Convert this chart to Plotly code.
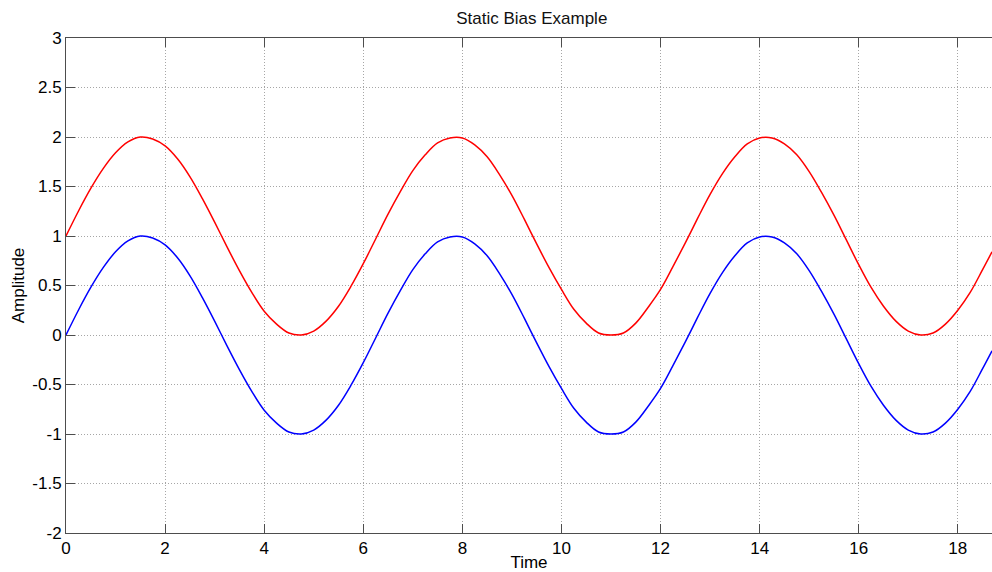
import plotly.graph_objects as go

# Sample times (every 0.25) and amplitudes of the two signals
time = [0.00, 0.25, 0.50, 0.75, 1.00, 1.25, 1.50, 1.75, 2.00, 2.25, 2.50, 2.75,
        3.00, 3.25, 3.50, 3.75, 4.00, 4.25, 4.50, 4.75, 5.00, 5.25, 5.50, 5.75,
        6.00, 6.25, 6.50, 6.75, 7.00, 7.25, 7.50, 7.75, 8.00, 8.25, 8.50, 8.75,
        9.00, 9.25, 9.50, 9.75, 10.00, 10.25, 10.50, 10.75, 11.00, 11.25, 11.50,
        11.75, 12.00, 12.25, 12.50, 12.75, 13.00, 13.25, 13.50, 13.75, 14.00,
        14.25, 14.50, 14.75, 15.00, 15.25, 15.50, 15.75, 16.00, 16.25, 16.50,
        16.75, 17.00, 17.25, 17.50, 17.75, 18.00, 18.25, 18.50, 18.69]

signal = [0.00, 0.25, 0.48, 0.68, 0.84, 0.95, 1.00, 0.98, 0.91, 0.78, 0.60, 0.38,
          0.14, -0.11, -0.35, -0.57, -0.76, -0.89, -0.98, -1.00, -0.96, -0.86, -0.71, -0.51,
          -0.28, -0.03, 0.22, 0.45, 0.66, 0.82, 0.94, 0.99, 0.99, 0.92, 0.80, 0.62,
          0.41, 0.17, -0.08, -0.32, -0.54, -0.74, -0.88, -0.98, -1.00, -0.98, -0.88,
          -0.72, -0.54, -0.31, -0.07, 0.18, 0.42, 0.63, 0.80, 0.93, 0.99,
          0.99, 0.93, 0.82, 0.65, 0.44, 0.21, -0.04, -0.29, -0.52, -0.71,
          -0.86, -0.96, -1.00, -0.98, -0.89, -0.75, -0.57, -0.34, -0.16]

biased = [1.00, 1.25, 1.48, 1.68, 1.84, 1.95, 2.00, 1.98, 1.91, 1.78, 1.60, 1.38,
          1.14, 0.89, 0.65, 0.43, 0.24, 0.11, 0.02, 0.00, 0.04, 0.14, 0.29, 0.49,
          0.72, 0.97, 1.22, 1.45, 1.66, 1.82, 1.94, 1.99, 1.99, 1.92, 1.80, 1.62,
          1.41, 1.17, 0.92, 0.68, 0.46, 0.26, 0.12, 0.02, 0.00, 0.02, 0.12,
          0.28, 0.46, 0.69, 0.93, 1.18, 1.42, 1.63, 1.80, 1.93, 1.99,
          1.99, 1.93, 1.82, 1.65, 1.44, 1.21, 0.96, 0.71, 0.48, 0.29,
          0.14, 0.04, 0.00, 0.02, 0.11, 0.25, 0.43, 0.66, 0.84]

x_ticks = [0, 2, 4, 6, 8, 10, 12, 14, 16, 18]
y_ticks = [-2, -1.5, -1, -0.5, 0, 0.5, 1, 1.5, 2, 2.5, 3]
y_tick_text = ["-2", "-1.5", "-1", "-0.5", "0", "0.5", "1", "1.5", "2", "2.5", "3"]

FONT = "Liberation Sans, Arial, Helvetica, sans-serif"
AXIS_COLOR = "#4d4d4d"
GRID_COLOR = "#a6a6a6"

fig = go.Figure()
fig.add_trace(go.Scatter(x=time, y=signal, mode="lines",
                         line=dict(color="#0000ff", width=1.5, shape="spline", smoothing=1.0),
                         showlegend=False, hoverinfo="skip"))
fig.add_trace(go.Scatter(x=time, y=biased, mode="lines",
                         line=dict(color="#ff0000", width=1.5, shape="spline", smoothing=1.0),
                         showlegend=False, hoverinfo="skip"))

fig.update_layout(
    width=992, height=572,
    margin=dict(l=66, r=0, t=38, b=39),
    paper_bgcolor="white", plot_bgcolor="white",
    font=dict(family=FONT, size=17, color="#000000"),
    title=dict(text="Static Bias Example", x=0.503, xanchor="center",
               xref="paper", yref="container", y=1 - 18 / 572, yanchor="middle",
               font=dict(family=FONT, size=17, color="#111111")),
)

fig.update_xaxes(
    range=[0, 18.69], tickvals=x_ticks, ticktext=[str(v) for v in x_ticks],
    showgrid=True, gridcolor=GRID_COLOR, griddash="1px,2px", gridwidth=1,
    zeroline=False, showline=True, linecolor=AXIS_COLOR, linewidth=1,
    mirror="ticks", ticks="inside", ticklen=9, tickcolor=AXIS_COLOR,
    tickfont=dict(family=FONT, size=17, color="#000000"),
    title=dict(text="Time", standoff=2, font=dict(family=FONT, size=17)),
)
fig.update_yaxes(
    range=[-2, 3], tickvals=y_ticks, ticktext=y_tick_text,
    showgrid=True, gridcolor=GRID_COLOR, griddash="1px,2px", gridwidth=1,
    zeroline=False, showline=True, linecolor=AXIS_COLOR, linewidth=1,
    ticks="inside", ticklen=9, tickcolor=AXIS_COLOR,
    tickfont=dict(family=FONT, size=17, color="#000000"),
    title=dict(text="Amplitude", standoff=3, font=dict(family=FONT, size=17)),
)

fig.write_html("out.html")
